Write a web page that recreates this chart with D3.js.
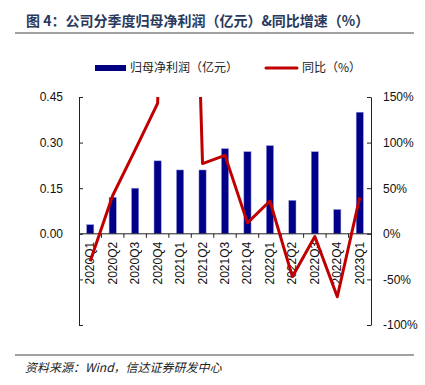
<!DOCTYPE html>
<html>
<head>
<meta charset="utf-8">
<script src="https://cdn.jsdelivr.net/npm/d3@7"></script>
<style>
  body { margin: 0; background: #fff; }
  svg text { font-family: Arial, "Liberation Sans", sans-serif; }
</style>
</head>
<body>
<div id="chart"></div>
<script>
// data
const quarters = ['2020Q1', '2020Q2', '2020Q3', '2020Q4', '2021Q1', '2021Q2', '2021Q3',
  '2021Q4', '2022Q1', '2022Q2', '2022Q3', '2022Q4', '2023Q1'];
const profit = [0.03, 0.12, 0.15, 0.24, 0.21, 0.21, 0.28, 0.27, 0.29, 0.11, 0.27, 0.08, 0.40];
const yoy = [-30, 42, 92, 143, 900, 77, 86, 12, 36, -47, -3, -69, 40];
const leftTicks = [-0.30, -0.15, 0, 0.15, 0.30, 0.45];
const rightTicks = [-100, -50, 0, 50, 100, 150];

const cjk = '"Noto Sans CJK SC", "Noto Sans", sans-serif';

const svg = d3.select('#chart').append('svg')
  .attr('width', 425)
  .attr('height', 385);

// plot box
const plot = { left: 79, right: 371, top: 97, bottom: 325 };

const xScale = d3.scaleBand().domain(quarters).range([plot.left, plot.right]);
const yLeft = d3.scaleLinear().domain([-0.30, 0.45]).range([plot.bottom, plot.top]);
const yRight = d3.scaleLinear().domain([-100, 150]).range([plot.bottom, plot.top]);

// title
svg.append('text')
  .attr('x', 26).attr('y', 26)
  .style('font-family', cjk)
  .style('font-size', '14px')
  .style('font-weight', 'bold')
  .attr('fill', '#2a3a5c')
  .text('图 4：公司分季度归母净利润（亿元）&同比增速（%）');
svg.append('line')
  .attr('x1', 15).attr('x2', 414).attr('y1', 33).attr('y2', 33)
  .attr('stroke', '#444').attr('stroke-width', 1);

// legend
const legend = svg.append('g');
legend.append('rect')
  .attr('x', 95).attr('y', 65).attr('width', 31).attr('height', 6)
  .attr('fill', '#000080');
legend.append('text')
  .attr('x', 130).attr('y', 72)
  .style('font-family', cjk).style('font-size', '12px')
  .attr('fill', '#222')
  .text('归母净利润（亿元）');
legend.append('line')
  .attr('x1', 266).attr('x2', 297).attr('y1', 68).attr('y2', 68)
  .attr('stroke', '#C00000').attr('stroke-width', 3).attr('stroke-linecap', 'round');
legend.append('text')
  .attr('x', 302).attr('y', 72)
  .style('font-family', cjk).style('font-size', '12px')
  .attr('fill', '#222')
  .text('同比（%）');

// bars
const barW = xScale.bandwidth() * 0.32;
svg.append('g')
  .selectAll('rect')
  .data(profit)
  .join('rect')
  .attr('x', (d, i) => xScale(quarters[i]) + xScale.bandwidth() / 2 - barW / 2)
  .attr('y', (d) => yLeft(d))
  .attr('width', barW)
  .attr('height', (d) => yLeft(0) - yLeft(d))
  .attr('fill', '#000088')
  .attr('stroke', '#9999dd')
  .attr('stroke-width', 0.5);

// left axis
const yAxisL = d3.axisLeft(yLeft).tickValues(leftTicks).tickSizeInner(-4).tickSizeOuter(0)
  .tickFormat((d) => (d < 0 ? '' : d3.format('.2f')(d)));
const gL = svg.append('g').attr('transform', `translate(${plot.left},0)`).call(yAxisL);
gL.selectAll('text').attr('x', -16).style('font-size', '12px').attr('fill', '#111');

// right axis
const yAxisR = d3.axisRight(yRight).tickValues(rightTicks).tickSizeInner(-4).tickSizeOuter(0)
  .tickFormat((d) => d + '%');
const gR = svg.append('g').attr('transform', `translate(${plot.right},0)`).call(yAxisR);
gR.selectAll('text').attr('x', 12).style('font-size', '12px').attr('fill', '#111');

[gL, gR].forEach((g) => {
  g.select('.domain').attr('stroke', '#222');
  g.selectAll('.tick line').attr('stroke', '#222');
});

// x axis along zero
const zeroY = yLeft(0);
const gX = svg.append('g');
gX.append('line')
  .attr('x1', plot.left).attr('x2', plot.right).attr('y1', zeroY).attr('y2', zeroY)
  .attr('stroke', '#222');
gX.selectAll('.xt')
  .data(quarters.slice(1))
  .join('line')
  .attr('class', 'xt')
  .attr('x1', (d) => xScale(d)).attr('x2', (d) => xScale(d))
  .attr('y1', zeroY).attr('y2', zeroY + 4)
  .attr('stroke', '#222');
gX.selectAll('text')
  .data(quarters)
  .join('text')
  .attr('transform', (d) => `translate(${xScale(d) + xScale.bandwidth() / 2 + 4},${zeroY + 8}) rotate(-90)`)
  .attr('text-anchor', 'end')
  .style('font-size', '12px')
  .attr('fill', '#111')
  .text((d) => d);

// yoy line, clipped to the plot box
svg.append('clipPath').attr('id', 'plot-clip')
  .append('rect')
  .attr('x', plot.left).attr('y', plot.top)
  .attr('width', plot.right - plot.left).attr('height', plot.bottom - plot.top);

const line = d3.line()
  .x((d, i) => xScale(quarters[i]) + xScale.bandwidth() / 2)
  .y((d) => yRight(d));

svg.append('path')
  .datum(yoy)
  .attr('clip-path', 'url(#plot-clip)')
  .attr('d', line)
  .attr('fill', 'none')
  .attr('stroke', '#C00000')
  .attr('stroke-width', 3)
  .attr('stroke-linejoin', 'round');

// footer
svg.append('line')
  .attr('x1', 15).attr('x2', 414).attr('y1', 355).attr('y2', 355)
  .attr('stroke', '#444').attr('stroke-width', 1);
svg.append('text')
  .attr('x', 25).attr('y', 372)
  .style('font-family', cjk)
  .style('font-size', '12px')
  .style('font-style', 'italic')
  .attr('fill', '#222')
  .text('资料来源：Wind，信达证券研发中心');
</script>
</body>
</html>
